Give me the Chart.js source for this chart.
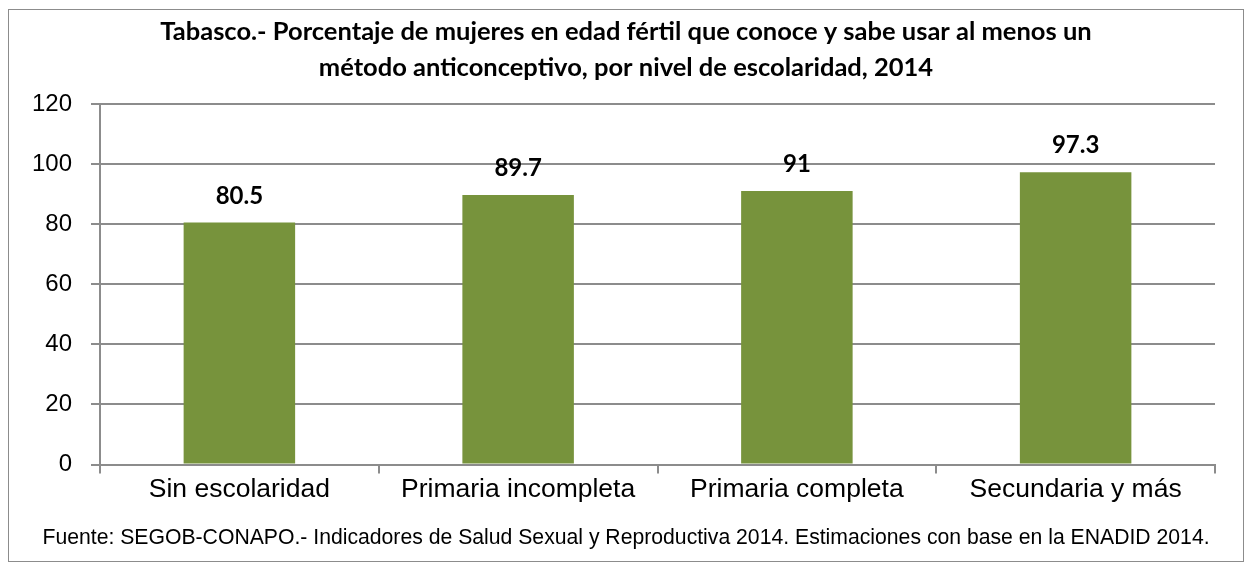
<!DOCTYPE html>
<html>
<head>
<meta charset="utf-8">
<script src="https://cdn.jsdelivr.net/npm/chart.js@4/dist/chart.umd.min.js"></script>
<style>
  html, body { margin: 0; padding: 0; background: #fff; }
  #box {
    position: absolute; left: 8px; top: 9px;
    width: 1234px; height: 551px;
    border: 1px solid #8c8c8c;
  }
</style>
</head>
<body>
<div id="box"><canvas id="chart"></canvas></div>
<script>
// chart data
const categories = ['Sin escolaridad', 'Primaria incompleta', 'Primaria completa', 'Secundaria y más'];
const values = [80.5, 89.7, 91, 97.3];
const yTicks = [0, 20, 40, 60, 80, 100, 120];

const titleLines = [
    'Tabasco.- Porcentaje de mujeres en edad fértil que conoce y sabe usar al menos un',
    'método anticonceptivo, por nivel de escolaridad, 2014'
];
const sourceNote = 'Fuente: SEGOB-CONAPO.- Indicadores de Salud Sexual y Reproductiva 2014. Estimaciones con base en la ENADID 2014.';

const barColor = '#77933c';
const gridColor = '#8c8c8c';
const sansFont = '"Liberation Sans", Arial, sans-serif';
const boldFont = 'Lato, "Open Sans", sans-serif';

// value labels above each bar
const valueLabels = {
    id: 'valueLabels',
    afterDatasetsDraw(chart) {
        const ctx = chart.ctx;
        const meta = chart.getDatasetMeta(0);
        ctx.save();
        ctx.font = 'bold 24px ' + boldFont;
        ctx.fillStyle = '#000';
        ctx.textAlign = 'center';
        ctx.textBaseline = 'alphabetic';
        meta.data.forEach((bar, i) => {
            ctx.fillText(String(values[i]), bar.x, bar.y - 19);
        });
        ctx.restore();
    }
};

new Chart(document.getElementById('chart'), {
    type: 'bar',
    data: {
        labels: categories,
        datasets: [{
            data: values,
            backgroundColor: barColor,
            borderWidth: 0,
            categoryPercentage: 1,
            barPercentage: 0.4
        }]
    },
    options: {
        responsive: true,
        maintainAspectRatio: false,
        animation: false,
        layout: { padding: { left: 0, right: 0, top: 0, bottom: 10 } },
        plugins: {
            legend: { display: false },
            tooltip: { enabled: false },
            title: {
                display: true,
                text: titleLines,
                color: '#000',
                font: { family: boldFont, size: 25.5, weight: 'bold', lineHeight: 1.41 },
                padding: { top: 4, bottom: 18 }
            },
            subtitle: {
                display: true,
                position: 'bottom',
                text: sourceNote,
                color: '#000',
                font: { family: sansFont, size: 21.2, lineHeight: 1.2 },
                padding: { top: 15, bottom: 0 }
            }
        },
        scales: {
            x: {
                afterFit(axis) { axis.height = 46; },
                grid: {
                    offset: true,
                    drawOnChartArea: false,
                    drawTicks: true,
                    tickLength: 9,
                    color: gridColor,
                    lineWidth: 2
                },
                border: { color: gridColor, width: 2 },
                ticks: {
                    color: '#000',
                    font: { family: sansFont, size: 26.5 },
                    padding: 0,
                    maxRotation: 0
                }
            },
            y: {
                min: 0,
                max: 120,
                afterFit(axis) { axis.width = 91; },
                afterBuildTicks(axis) {
                    axis.ticks = yTicks.map(v => ({ value: v }));
                },
                grid: {
                    color: gridColor,
                    lineWidth: 2,
                    drawTicks: true,
                    tickLength: 9
                },
                border: { color: gridColor, width: 2 },
                ticks: {
                    color: '#000',
                    font: { family: sansFont, size: 24 },
                    padding: 19
                }
            },
            // empty right-hand axis, only keeps a margin so the titles stay centred
            yRight: {
                position: 'right',
                min: 0,
                max: 120,
                afterFit(axis) { axis.width = 28; },
                grid: { display: false },
                border: { display: false },
                ticks: { display: false }
            }
        }
    },
    plugins: [valueLabels]
});
</script>
</body>
</html>
